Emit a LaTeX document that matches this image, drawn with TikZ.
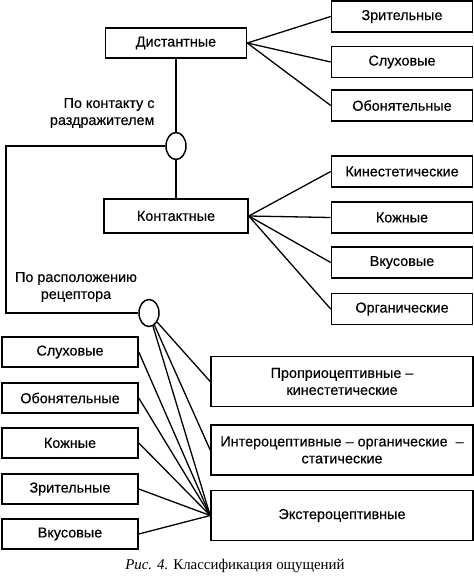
\documentclass[tikz,border=0pt]{standalone}
\usepackage{fontspec}
\setmainfont[BoldFont={Liberation Sans}, BoldFeatures={FakeBold=0.35}]{Liberation Sans}
\newfontfamily\capfont{Liberation Serif}
\usetikzlibrary{shapes.geometric}
\begin{document}
\begin{tikzpicture}[
x=1pt, y=-1pt,
line/.style={draw, line width=1.3pt},
box/.style={draw, line width=1.6pt, inner sep=0pt, font=\fontsize{14.4}{17}\selectfont\bfseries, align=center},
small/.style={box, minimum width=141pt, minimum height=31pt},
wide/.style={box, minimum width=262pt, minimum height=50pt},
oval/.style={draw, ellipse, line width=1.5pt, minimum width=20pt, minimum height=27pt, inner sep=0pt},
lbl/.style={font=\fontsize{14.4}{17}\selectfont\bfseries},
]
\useasboundingbox (0,0) rectangle (474,579);

\node[box, minimum width=141pt, minimum height=30pt] (dist) at (176,43) {Дистантные};
	\node[small] (zr1) at (402,16.5) {Зрительные};
	\node[small] (sl1) at (402,62) {Слуховые};
	\node[small] (ob1) at (402,105.5) {Обонятельные};

\node[oval] (el1) at (176,146) {};

\node[box, minimum width=144pt, minimum height=34pt] (kont) at (176,216) {Контактные};
	\node[small] (kin) at (402,171.5) {Кинестетические};
	\node[small] (kozh1) at (402,217.5) {Кожные};
	\node[small] (vk1) at (402,262.5) {Вкусовые};
	\node[small] (org) at (402,309) {Органические};

\node[oval] (el2) at (149,313) {};

\node[small, minimum width=136pt, minimum height=30pt] (sl2) at (70,352) {Слуховые};
\node[small, minimum width=136pt, minimum height=30pt] (ob2) at (70,398) {Обонятельные};
\node[small, minimum width=136pt, minimum height=30pt] (kozh2) at (70,443) {Кожные};
\node[small, minimum width=136pt, minimum height=30pt] (zr2) at (70,489) {Зрительные};
\node[small, minimum width=136pt, minimum height=30pt] (vk2) at (70,534) {Вкусовые};

\node[wide] (prop) at (342,381.5) {Проприоцептивные –\\кинестетические};
\node[wide] (inter) at (342,450) {Интероцептивные – органические\ \ –\\статические};
\node[wide] (ext) at (342,515.5) {Экстероцептивные};

\coordinate (bendA) at (6,146);
\coordinate (bendB) at (6,313);

\path[line] (dist) -- (el1);
\path[line] (el1) -- (kont);
\path[line] (el1.west) -- (bendA) -- (bendB) -- (el2.west);

\path[line] (dist.east) -- (zr1.west);
\path[line] (dist.east) -- (sl1.west);
\path[line] (dist.east) -- (ob1.west);

\path[line] (kont.east) -- (kin.west);
\path[line] (kont.east) -- (kozh1.west);
\path[line] (kont.east) -- (vk1.west);
\path[line] (kont.east) -- (org.west);

\path[line] (el2) -- (prop.west);
\path[line] (el2) -- (inter.west);
\path[line] (el2) -- (ext.west);
\foreach \b in {sl2,ob2,kozh2,zr2,vk2}
	\path[line] (\b.east) -- (ext.west);

%labels
\node[lbl, align=right, anchor=east] (lbl1) at (158,113) {По контакту с\\раздражителем};
\node[lbl, align=center] (lbl2) at (76,287) {По расположению\\рецептора};

%caption
\node[font=\capfont\fontsize{14.9}{16}\selectfont] (cap) at (235,566) {\textit{Рис. 4.} Классификация ощущений};
\end{tikzpicture}
\end{document}
